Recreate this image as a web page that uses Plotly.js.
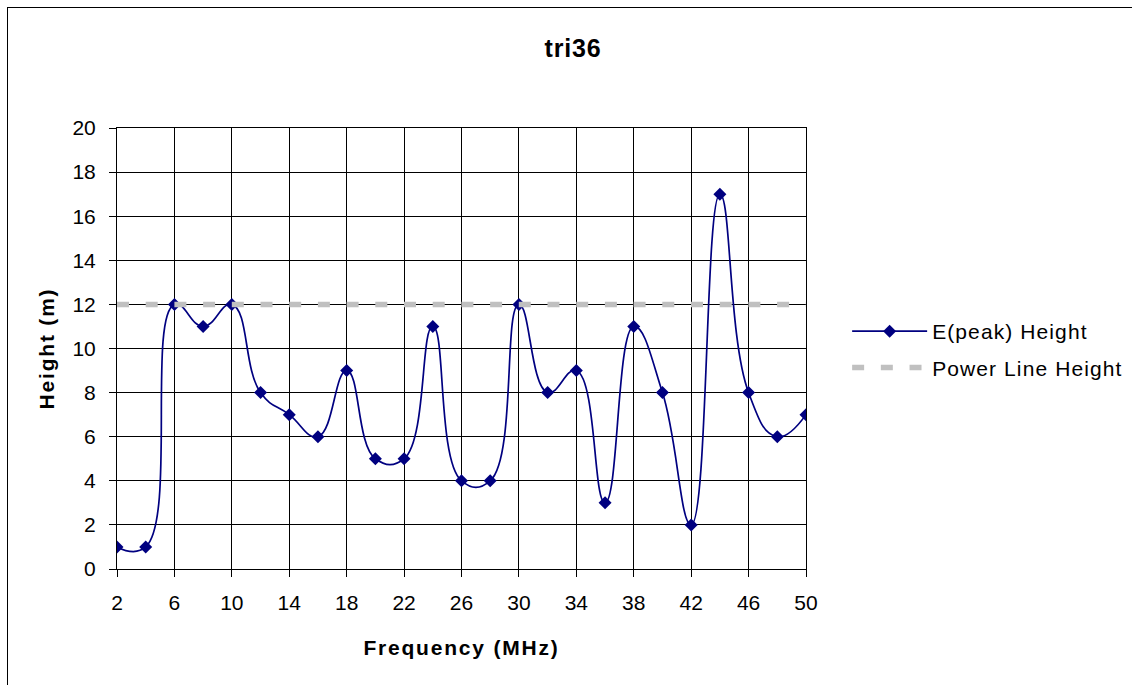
<!DOCTYPE html>
<html>
<head>
<meta charset="utf-8">
<script src="https://cdn.plot.ly/plotly-3.0.1.min.js"></script>
<style>
  html, body { margin: 0; padding: 0; background: #fff; overflow: hidden; }
  #wrap { position: relative; width: 1132px; height: 685px; }
  #chart { width: 1132px; height: 685px; }
  #frame { position: absolute; left: 7px; top: 7px; width: 2000px; height: 2000px;
           border-left: 1.5px solid #000; border-top: 1.5px solid #000; pointer-events: none; }
  .xtitle, .ytitle { letter-spacing: 1.8px; }
  .gtitle { letter-spacing: 0.8px; }
  .legendtext { letter-spacing: 1.1px; }
</style>
</head>
<body>
<div id="wrap">
  <div id="chart"></div>
  <div id="frame"></div>
</div>
<script>
// Data
const frequency = [2, 4, 6, 8, 10, 12, 14, 16, 18, 20, 22, 24, 26, 28, 30, 32, 34, 36, 38, 40, 42, 44, 46, 48, 50];
const peakHeight = [1, 1, 12, 11, 12, 8, 7, 6, 9, 5, 5, 11, 4, 4, 12, 8, 9, 3, 11, 8, 2, 17, 8, 6, 7];
const powerLineX = [2, 50];
const powerLineHeight = [12, 12];
const xTickVals = [2, 6, 10, 14, 18, 22, 26, 30, 34, 38, 42, 46, 50];

const FONT = "Liberation Sans, Arial, sans-serif";

const traces = [
  {
    x: frequency, y: peakHeight, type: 'scatter', mode: 'lines+markers',
    name: 'E(peak) Height',
    line: { color: '#000080', width: 1.7, shape: 'spline', smoothing: 1.3 },
    marker: { symbol: 'diamond', size: 10, color: '#000080' },
    legendgroup: 'a'
  },
  {
    x: powerLineX, y: powerLineHeight, type: 'scatter', mode: 'lines',
    name: 'Power Line Height',
    line: { color: '#c0c0c0', width: 5.5, dash: '12px,16.7px' },
    legendgroup: 'b'
  }
];

const layout = {
  width: 1132, height: 685,
  paper_bgcolor: '#fff', plot_bgcolor: '#fff',
  margin: { l: 117, r: 326, t: 128, b: 116, autoexpand: false },
  font: { family: FONT, color: '#000', size: 21 },
  title: { text: '<b>tri36</b>', font: { family: FONT, size: 25, color: '#000' },
           xref: 'container', x: 573 / 1132, xanchor: 'center',
           yref: 'container', y: 1 - 48 / 685, yanchor: 'middle' },
  xaxis: {
    range: [2, 50], tickmode: 'array', tickvals: xTickVals, ticktext: xTickVals.map(String),
    showgrid: true, gridcolor: '#000', gridwidth: 1,
    showline: true, mirror: true, linecolor: '#000', linewidth: 1,
    ticks: 'outside', ticklen: 7, tickcolor: '#000', tickwidth: 1,
    tickfont: { family: FONT, size: 21, color: '#000' },
    ticklabelstandoff: 8,
    zeroline: false,
    title: { text: '<b>Frequency (MHz)</b>', font: { family: FONT, size: 21, color: '#000' }, standoff: 27 }
  },
  yaxis: {
    range: [0, 20], tick0: 0, dtick: 2,
    showgrid: true, gridcolor: '#000', gridwidth: 1,
    showline: true, mirror: true, linecolor: '#000', linewidth: 1,
    ticks: 'outside', ticklen: 7, tickcolor: '#000', tickwidth: 1,
    tickfont: { family: FONT, size: 21, color: '#000' },
    ticklabelstandoff: 9,
    zeroline: false,
    title: { text: '<b>Height (m)</b>', font: { family: FONT, size: 21, color: '#000' }, standoff: 12 }
  },
  showlegend: true,
  legend: {
    x: (852 - 9 - 117) / 689 + 0.006, xanchor: 'left', y: 0.585, yanchor: 'top',
    font: { family: FONT, size: 21, color: '#000' },
    itemwidth: 75, traceorder: 'grouped', tracegroupgap: 6,
    bgcolor: 'rgba(0,0,0,0)', borderwidth: 0
  }
};

Plotly.newPlot('chart', traces, layout, { staticPlot: true, displayModeBar: false });
</script>
</body>
</html>
